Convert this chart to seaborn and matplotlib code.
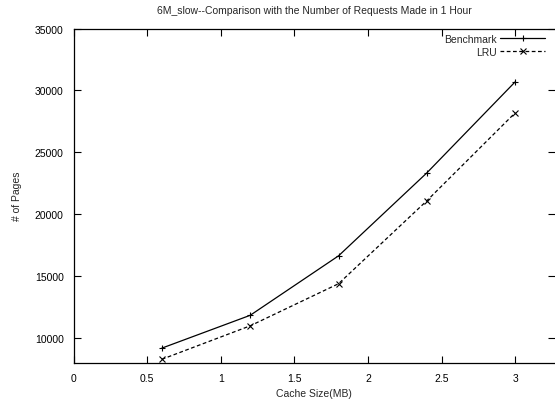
import pandas as pd
import numpy as np
import seaborn as sns
import matplotlib.pyplot as plt

cache_mb = [0.6, 1.2, 1.8, 2.4, 3.0]
benchmark = [9200, 11850, 16650, 23350, 30700]
lru = [8300, 11000, 14400, 21100, 28200]
series = ['Benchmark', 'LRU']

df = pd.DataFrame({
    'Cache Size(MB)': cache_mb * 2,
    'pages': benchmark + lru,
    'series': ['Benchmark'] * 5 + ['LRU'] * 5,
})

sns.set_style('ticks')
plt.rcParams['font.family'] = ['Liberation Sans', 'DejaVu Sans']
plt.rcParams['font.size'] = 7.5

fig = plt.figure(figsize=(5.55, 4.02), dpi=100)
ax = fig.add_axes([73.5 / 555, 38 / 402, 481.5 / 555, 334.5 / 402])

sns.lineplot(data=df, x='Cache Size(MB)', y='pages', hue='series', style='series',
             palette=['black', 'black'], dashes={'Benchmark': '', 'LRU': (3, 2)},
             markers={'Benchmark': '+', 'LRU': 'x'}, markersize=4.5, markeredgewidth=0.8,
             markeredgecolor='black', linewidth=0.9, ax=ax)

ax.set_xlim(0, 3.27)
ax.set_ylim(8000, 35000)
ax.set_xticks([0, 0.5, 1, 1.5, 2, 2.5, 3])
ax.set_xticklabels(['0', '0.5', '1', '1.5', '2', '2.5', '3'])
ax.set_yticks([10000, 15000, 20000, 25000, 30000, 35000])
ax.tick_params(direction='in', length=5, width=0.8, top=True, right=True,
               labelsize=7.5, pad=7, colors='black')
for s in ax.spines.values():
    s.set_linewidth(0.9)
    s.set_color('black')
ax.spines['right'].set_visible(False)

ax.set_xlabel('Cache Size(MB)', fontsize=7.5, labelpad=4)
ax.set_ylabel('# of Pages', fontsize=7.5, labelpad=9)
ax.set_title('6M_slow--Comparison with the Number of Requests Made in 1 Hour',
             fontsize=7.5, pad=11)

leg = ax.legend(loc='upper right', frameon=False, markerfirst=False, fontsize=7.5,
                handlelength=4.3, handletextpad=0.3, borderaxespad=0.1, labelspacing=0.3,
                bbox_to_anchor=(0.99, 1.0))
for col in leg._legend_handle_box.get_children():
    col.align = 'right'

fig.savefig('out.png', dpi=100)
